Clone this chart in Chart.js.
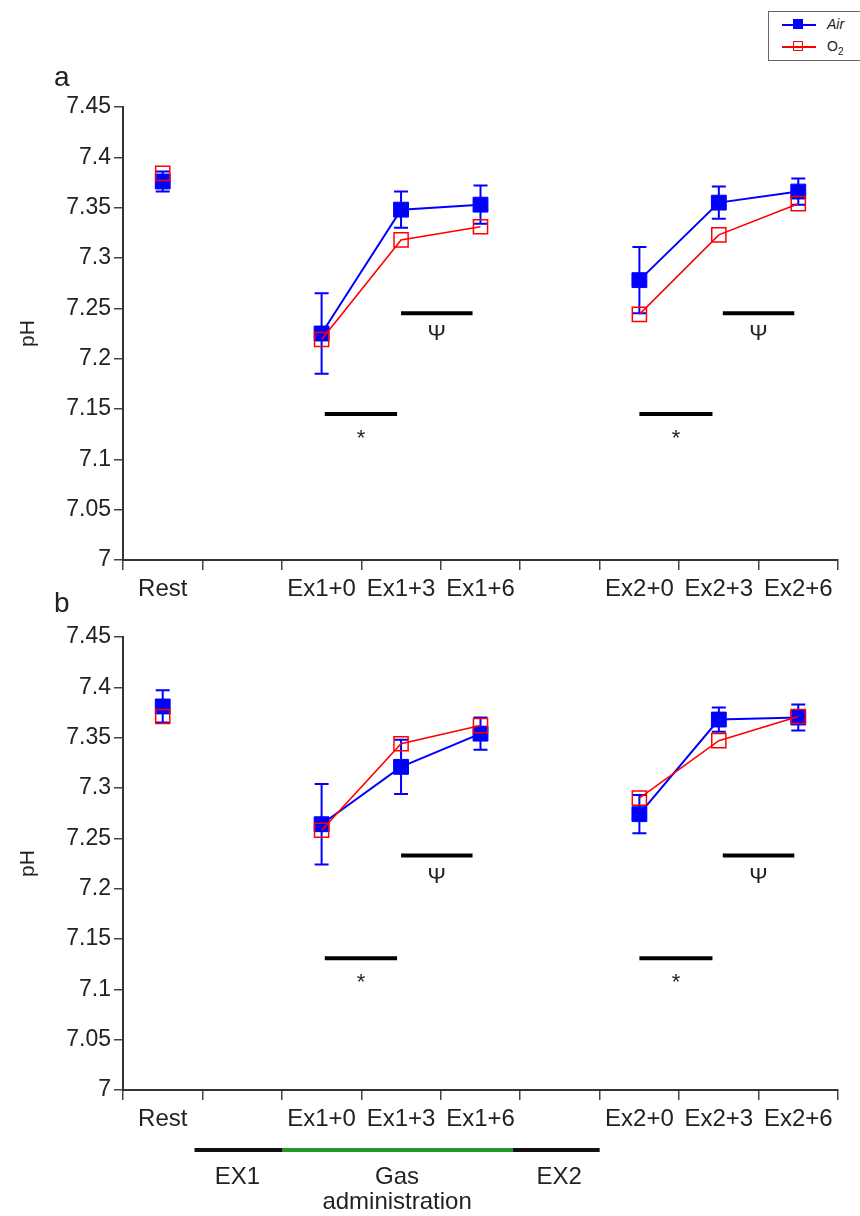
<!DOCTYPE html>
<html>
<head>
<meta charset="utf-8">
<script src="https://cdn.jsdelivr.net/npm/chart.js@4.4.1/dist/chart.umd.min.js"></script>
<style>
    body { margin: 0; background: #fff; overflow: hidden; }
    #wrap { position: relative; width: 860px; height: 1216px; font-family: "Liberation Sans", Arial, sans-serif; color: #222; }
    canvas { position: absolute; left: 0; }
    .panel-letter { position: absolute; left: 54px; font-size: 28px; line-height: 1; }
    #legend { position: absolute; left: 768px; top: 11px; width: 100px; height: 48px; border: 1px solid #666; background: #fff; }
    .leg-row { position: absolute; left: 0; width: 100%; height: 20px; }
    .leg-line { position: absolute; left: 13px; top: 9px; width: 34px; height: 2px; }
    .leg-mark { position: absolute; left: 24px; top: 4px; width: 10px; height: 10px; box-sizing: border-box; }
    .leg-text { position: absolute; left: 58px; top: 1px; font-size: 14px; }
</style>
</head>
<body>
<div id="wrap">
    <canvas id="chartA" width="860" height="605" style="top:0"></canvas>
    <canvas id="chartB" width="860" height="611" style="top:605px"></canvas>
    <div class="panel-letter" style="top:63px">a</div>
    <div class="panel-letter" style="top:589px">b</div>
    <div id="legend">
        <div class="leg-row" style="top:3px">
            <div class="leg-line" style="background:#0000ff"></div>
            <div class="leg-mark" style="background:#0000ff"></div>
            <div class="leg-text" style="font-style:italic">Air</div>
        </div>
        <div class="leg-row" style="top:25px">
            <div class="leg-line" style="background:#ff0000"></div>
            <div class="leg-mark" style="border:1px solid #ff0000"></div>
            <div class="leg-text">O<sub style="font-size:10px">2</sub></div>
        </div>
    </div>
</div>
<script>
// Time points (blank slots are the gaps between exercise bouts)
const timeLabels = ['Rest', '', 'Ex1+0', 'Ex1+3', 'Ex1+6', '', 'Ex2+0', 'Ex2+3', 'Ex2+6'];

// Panel a
const airA    = [7.376, null, 7.225, 7.348, 7.353, null, 7.278, 7.355, 7.366];
const airErrA = [0.010, null, 0.040, 0.018, 0.019, null, 0.033, 0.016, 0.013];
const o2A     = [7.384, null, 7.219, 7.318, 7.331, null, 7.244, 7.323, 7.354];

// Panel b
const airB    = [7.381, null, 7.264, 7.321, 7.354, null, 7.274, 7.368, 7.370];
const airErrB = [0.016, null, 0.040, 0.027, 0.016, null, 0.019, 0.012, 0.013];
const o2B     = [7.371, null, 7.258, 7.344, 7.362, null, 7.290, 7.347, 7.371];

// Significance bars: from/to in category units, y in pH
const sigA = [
    { from: 2.04, to: 2.95, y: 7.145, sym: '*' },
    { from: 3.00, to: 3.90, y: 7.245, sym: 'Ψ' },
    { from: 6.00, to: 6.92, y: 7.145, sym: '*' },
    { from: 7.05, to: 7.95, y: 7.245, sym: 'Ψ' }
];
const sigB = [
    { from: 2.04, to: 2.95, y: 7.131, sym: '*' },
    { from: 3.00, to: 3.90, y: 7.233, sym: 'Ψ' },
    { from: 6.00, to: 6.92, y: 7.131, sym: '*' },
    { from: 7.05, to: 7.95, y: 7.233, sym: 'Ψ' }
];

// Protocol timeline under panel b (category units)
const phaseSegments = [
    { from: 0.40, to: 1.51, color: '#111' },
    { from: 1.51, to: 4.41, color: '#1f9a2a' },
    { from: 4.41, to: 5.50, color: '#111' }
];
const phaseLabels = [
    { at: 0.94, lines: ['EX1'] },
    { at: 2.95, lines: ['Gas', 'administration'] },
    { at: 4.99, lines: ['EX2'] }
];

const FONT = '"Liberation Sans", Arial, sans-serif';

// Error bars for datasets carrying an `errors` array
const errorBarPlugin = {
    id: 'errorBars',
    beforeDatasetsDraw(chart) {
        const ctx = chart.ctx;
        const y = chart.scales.y;
        chart.data.datasets.forEach((ds, i) => {
            if (!ds.errors) return;
            const meta = chart.getDatasetMeta(i);
            ctx.save();
            ctx.strokeStyle = ds.borderColor;
            ctx.lineWidth = 2;
            meta.data.forEach((pt, j) => {
                const v = ds.data[j], e = ds.errors[j];
                if (v === null || e === null) return;
                const top = y.getPixelForValue(v + e);
                const bot = y.getPixelForValue(v - e);
                ctx.beginPath();
                ctx.moveTo(pt.x, top); ctx.lineTo(pt.x, bot);
                ctx.moveTo(pt.x - 7, top); ctx.lineTo(pt.x + 7, top);
                ctx.moveTo(pt.x - 7, bot); ctx.lineTo(pt.x + 7, bot);
                ctx.stroke();
            });
            ctx.restore();
        });
    }
};

// Significance bars with their symbols
const sigPlugin = {
    id: 'sigBars',
    afterDatasetsDraw(chart, args, opts) {
        const ctx = chart.ctx;
        const x = chart.scales.x, y = chart.scales.y;
        ctx.save();
        (opts.bars || []).forEach(b => {
            const x0 = x.getPixelForValue(b.from);
            const x1 = x.getPixelForValue(b.to);
            const yy = y.getPixelForValue(b.y);
            ctx.strokeStyle = '#000';
            ctx.lineWidth = 4;
            ctx.beginPath();
            ctx.moveTo(x0, yy); ctx.lineTo(x1, yy);
            ctx.stroke();
            ctx.fillStyle = '#222';
            ctx.font = '22px ' + FONT;
            ctx.textAlign = 'center';
            ctx.textBaseline = 'middle';
            ctx.fillText(b.sym, (x0 + x1) / 2, yy + (b.sym === '*' ? 25 : 21));
        });
        ctx.restore();
    }
};

// Timeline of the protocol under the lower x axis
const timelinePlugin = {
    id: 'timeline',
    afterDraw(chart, args, opts) {
        if (!opts.show) return;
        const ctx = chart.ctx;
        const x = chart.scales.x;
        const base = chart.chartArea.bottom;
        ctx.save();
        ctx.lineWidth = 4;
        phaseSegments.forEach(s => {
            ctx.strokeStyle = s.color;
            ctx.beginPath();
            ctx.moveTo(x.getPixelForValue(s.from), base + 60);
            ctx.lineTo(x.getPixelForValue(s.to), base + 60);
            ctx.stroke();
        });
        ctx.fillStyle = '#222';
        ctx.font = '24px ' + FONT;
        ctx.textAlign = 'center';
        ctx.textBaseline = 'middle';
        phaseLabels.forEach(l => {
            l.lines.forEach((t, k) => {
                ctx.fillText(t, x.getPixelForValue(l.at), base + 87 + k * 25);
            });
        });
        ctx.restore();
    }
};

function makeChart(id, air, airErr, o2, bars, padTop, xHeight, showTimeline) {
    return new Chart(document.getElementById(id), {
        type: 'line',
        data: {
            labels: timeLabels,
            datasets: [
                {
                    label: 'Air',
                    data: air,
                    errors: airErr,
                    borderColor: '#0000ff',
                    backgroundColor: '#0000ff',
                    borderWidth: 2,
                    pointStyle: 'rect',
                    pointRadius: 10.5,
                    pointBorderWidth: 1,
                    order: 1
                },
                {
                    label: 'O2',
                    data: o2,
                    borderColor: '#ff0000',
                    backgroundColor: 'rgba(0,0,0,0)',
                    borderWidth: 1.6,
                    pointStyle: 'rect',
                    pointRadius: 10,
                    pointBorderWidth: 1.5,
                    order: 0
                }
            ]
        },
        options: {
            responsive: false,
            animation: false,
            layout: { padding: { top: padTop, left: 12, right: 22, bottom: 0 } },
            plugins: {
                legend: { display: false },
                tooltip: { enabled: false },
                sigBars: { bars: bars },
                timeline: { show: showTimeline }
            },
            scales: {
                x: {
                    type: 'category',
                    offset: true,
                    grid: { offset: true, drawOnChartArea: false, drawTicks: true, tickLength: 10, color: '#444', lineWidth: 1.5 },
                    border: { color: '#333', width: 2 },
                    ticks: { autoSkip: false, maxRotation: 0, padding: 5, color: '#222', font: { family: FONT, size: 24 } },
                    afterFit: (s) => { s.height = xHeight; }
                },
                y: {
                    min: 7,
                    max: 7.45,
                    grid: { drawOnChartArea: false, drawTicks: true, tickLength: 9, color: '#444', lineWidth: 1.5 },
                    border: { color: '#333', width: 2 },
                    ticks: {
                        stepSize: 0.05,
                        padding: 3,
                        color: '#222',
                        font: { family: FONT, size: 23 },
                        callback: (v) => String(parseFloat(v.toFixed(2)))
                    },
                    title: { display: true, text: 'pH', color: '#222', font: { family: FONT, size: 21 }, padding: { top: 4, bottom: 0 } },
                    afterFit: (s) => { s.width = 111; }
                }
            }
        },
        plugins: [errorBarPlugin, sigPlugin, timelinePlugin]
    });
}

makeChart('chartA', airA, airErrA, o2A, sigA, 107, 45, false);
makeChart('chartB', airB, airErrB, o2B, sigB, 32, 126, true);
</script>
</body>
</html>
